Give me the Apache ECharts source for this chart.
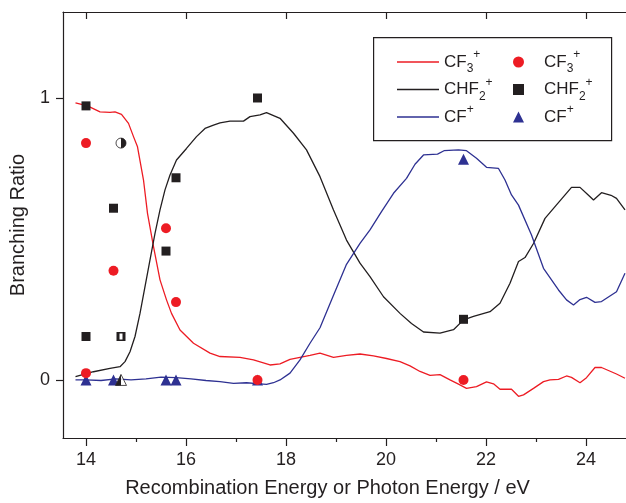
<!DOCTYPE html>
<html>
<head>
<meta charset="utf-8">
<script src="https://cdn.jsdelivr.net/npm/echarts@6/dist/echarts.min.js"></script>
<style>
html, body { margin: 0; padding: 0; background: #fff; }
#main { width: 626px; height: 503px; }
</style>
</head>
<body>
<div id="main"></div>
<script>
// curves [energy, ratio]
var cf3Curve = [
	[13.79,0.983],[14.03,0.972],[14.28,0.951],[14.48,0.949],[14.58,0.951],[14.71,0.942],[14.85,0.91],
	[14.95,0.863],[15.03,0.827],[15.15,0.709],[15.23,0.591],[15.35,0.473],[15.48,0.355],[15.61,0.284],
	[15.71,0.236],[15.88,0.177],[16.15,0.13],[16.48,0.095],[16.68,0.083],[17.08,0.08],[17.35,0.071],
	[17.68,0.053],[17.88,0.057],[18.08,0.073],[18.28,0.08],[18.48,0.087],[18.68,0.095],[18.95,0.08],
	[19.21,0.087],[19.48,0.092],[19.75,0.085],[20.01,0.076],[20.28,0.065],[20.48,0.05],[20.68,0.03],
	[20.88,0.016],[21.08,0.019],[21.28,0.0],[21.45,-0.015],[21.61,-0.03],[21.81,-0.024],[22.01,-0.007],
	[22.15,-0.014],[22.28,-0.033],[22.51,-0.033],[22.65,-0.058],[22.75,-0.053],[22.95,-0.03],[23.15,-0.006],
	[23.28,0.0],[23.45,0.002],[23.61,0.014],[23.71,0.009],[23.88,-0.01],[24.01,0.008],[24.18,0.044],
	[24.31,0.044],[24.61,0.021],[24.78,0.006]
];
var chf2Curve = [
	[13.79,0.012],[14.15,0.029],[14.48,0.041],[14.68,0.047],[14.78,0.065],[14.88,0.1],[14.98,0.154],
	[15.08,0.236],[15.18,0.331],[15.28,0.426],[15.38,0.52],[15.48,0.603],[15.58,0.674],[15.68,0.727],
	[15.81,0.78],[16.01,0.821],[16.21,0.863],[16.38,0.892],[16.55,0.904],[16.68,0.912],[16.88,0.918],
	[17.15,0.918],[17.28,0.934],[17.48,0.94],[17.61,0.948],[17.88,0.928],[18.15,0.875],[18.41,0.816],
	[18.68,0.721],[18.95,0.603],[19.21,0.496],[19.48,0.414],[19.68,0.366],[19.95,0.295],[20.28,0.236],
	[20.51,0.2],[20.75,0.17],[21.08,0.166],[21.35,0.178],[21.55,0.213],[21.75,0.225],[22.08,0.242],
	[22.28,0.272],[22.48,0.343],[22.65,0.42],[22.78,0.434],[22.95,0.484],[23.18,0.573],[23.41,0.621],
	[23.71,0.683],[23.88,0.683],[24.05,0.655],[24.15,0.638],[24.31,0.664],[24.5,0.655],[24.61,0.644],
	[24.78,0.603]
];
var cfCurve = [
	[13.79,0.0],[14.0,0.0],[14.3,-0.002],[14.6,0.004],[14.9,0.0],[15.2,0.004],[15.5,0.01],[15.8,0.008],
	[16.1,0.004],[16.4,-0.002],[16.68,-0.006],[16.95,-0.012],[17.21,-0.01],[17.48,-0.014],[17.61,-0.016],
	[17.75,-0.01],[17.88,0.0],[18.08,0.024],[18.28,0.071],[18.48,0.13],[18.68,0.185],[18.95,0.3],
	[19.21,0.41],[19.48,0.484],[19.68,0.532],[19.91,0.597],[20.15,0.662],[20.41,0.715],[20.58,0.765],
	[20.75,0.798],[21.03,0.801],[21.16,0.813],[21.45,0.816],[21.61,0.813],[21.81,0.786],[22.01,0.754],
	[22.25,0.75],[22.38,0.709],[22.51,0.656],[22.65,0.62],[22.91,0.514],[23.15,0.396],[23.45,0.319],
	[23.61,0.284],[23.75,0.266],[23.88,0.285],[24.01,0.293],[24.18,0.275],[24.31,0.278],[24.61,0.313],
	[24.78,0.378]
];

// measured points
var cf3Points = [[14.0,0.84],[14.0,0.024],[14.55,0.387],[15.6,0.538],[15.8,0.276],[17.43,0],[21.55,0]];
var chf2Points = [[14.0,0.972],[14.0,0.154],[14.55,0.609],[15.6,0.457],[15.8,0.717],[17.43,1.0],[21.55,0.215]];
var cfPoints = [[14.0,0],[14.55,0],[15.6,0],[15.8,0],[17.43,0],[21.55,0.783]];
var halfCircle = [[14.7,0.84]];
var halfSquare = [[14.7,0.154]];
var halfTriangle = [[14.7,0]];

var majorTicks = [14, 16, 18, 20, 22, 24];
var minorTicks = [15, 17, 19, 21, 23];
var yTicks = [0, 1];

var RED = '#ed1c24', BLACK = '#231f20', BLUE = '#2e3192';
var FONT = 'Liberation Sans';

var labels = {
	lineCF3: '{n|CF}{sub|3}{sup|+}',
	lineCHF2: '{n|CHF}{sub|2}{sup|+}',
	lineCF: '{n|CF}{sup|+}',
	ptCF3: '{g| }{n|CF}{sub|3}{sup|+}',
	ptCHF2: '{g| }{n|CHF}{sub|2}{sup|+}',
	ptCF: '{g| }{n|CF}{sup|+}'
};
var rich = {
	n: {fontSize: 17, lineHeight: 26, fontFamily: FONT, color: BLACK},
	sub: {fontSize: 12, lineHeight: 10, verticalAlign: 'bottom', fontFamily: FONT, color: BLACK},
	sup: {fontSize: 12, lineHeight: 10, verticalAlign: 'top', fontFamily: FONT, color: BLACK},
	g: {width: 15, fontSize: 17, lineHeight: 26}
};

var myChart = echarts.init(document.getElementById('main'));

function lineSeries(name, data, color) {
	return {
		name: name, type: 'line', data: data, symbol: 'none', smooth: false,
		lineStyle: {color: color, width: 1.3}, itemStyle: {color: color},
		animation: false, z: 2
	};
}
function pointSeries(name, data, symbol, size, color, extra) {
	var s = {
		name: name, type: 'scatter', data: data, symbol: symbol, symbolSize: size,
		itemStyle: {color: color, opacity: 1}, animation: false, z: 3
	};
	for (var k in extra) s[k] = extra[k];
	return s;
}

var axisLineStyle = {color: BLACK, width: 1.2};

var option = {
	backgroundColor: '#fff',
	grid: {left: 63, top: 12, right: 0, bottom: 65, containLabel: false, outerBoundsMode: 'none'},
	graphic: [{
		type: 'rect', left: 373, top: 37, z: 5,
		shape: {width: 238, height: 103},
		style: {fill: '#fff', stroke: BLACK, lineWidth: 1.2}
	}],
	legend: [{
		data: [
			{name: 'lineCF3', icon: 'rect'},
			{name: 'lineCHF2', icon: 'rect'},
			{name: 'lineCF', icon: 'rect'}
		],
		orient: 'vertical', left: 397, top: 49, padding: 0, z: 10,
		itemWidth: 42, itemHeight: 1.3, itemGap: 1.5,
		formatter: function (n) { return labels[n]; },
		textStyle: {rich: rich},
		selectedMode: false
	}, {
		data: [
			{name: 'ptCF3', icon: 'circle'},
			{name: 'ptCHF2', icon: 'rect'},
			{name: 'ptCF', icon: 'triangle'}
		],
		orient: 'vertical', left: 513, top: 49, padding: 0, z: 10,
		itemWidth: 11, itemHeight: 11, itemGap: 1.5,
		formatter: function (n) { return labels[n]; },
		textStyle: {rich: rich},
		selectedMode: false
	}],
	xAxis: [{
		type: 'value', position: 'bottom', min: 13.54, max: 24.8,
		axisLine: {show: true, onZero: false, lineStyle: axisLineStyle},
		axisTick: {show: true, inside: false, length: 8, customValues: majorTicks, lineStyle: axisLineStyle},
		axisLabel: {customValues: majorTicks, fontSize: 18, margin: 13, color: BLACK, fontFamily: FONT},
		splitLine: {show: false},
		name: 'Recombination Energy or Photon Energy / eV',
		nameLocation: 'middle', nameGap: 40,
		nameTextStyle: {fontSize: 20, color: BLACK, fontFamily: FONT, padding: [0, 34, 0, 0]}
	}, {
		type: 'value', position: 'bottom', min: 13.54, max: 24.8,
		axisLine: {show: false, onZero: false},
		axisTick: {show: true, inside: false, length: 4, customValues: minorTicks, lineStyle: axisLineStyle},
		axisLabel: {show: false},
		splitLine: {show: false}
	}, {
		type: 'value', position: 'top', min: 13.54, max: 24.8,
		axisLine: {show: true, onZero: false, lineStyle: axisLineStyle},
		axisTick: {show: true, inside: true, length: 7, customValues: majorTicks, lineStyle: axisLineStyle},
		axisLabel: {show: false},
		splitLine: {show: false}
	}],
	yAxis: [{
		type: 'value', position: 'left', min: -0.206, max: 1.305,
		axisLine: {show: true, onZero: false, lineStyle: axisLineStyle},
		axisTick: {show: true, inside: false, length: 7, customValues: yTicks, lineStyle: axisLineStyle},
		axisLabel: {customValues: yTicks, fontSize: 18, margin: 13, color: BLACK, fontFamily: FONT},
		splitLine: {show: false},
		name: 'Branching Ratio', nameLocation: 'middle', nameGap: 35,
		nameTextStyle: {fontSize: 20, color: BLACK, fontFamily: FONT}
	}],
	series: [
		lineSeries('lineCF3', cf3Curve, RED),
		lineSeries('lineCHF2', chf2Curve, BLACK),
		lineSeries('lineCF', cfCurve, BLUE),
		pointSeries('ptCF', cfPoints, 'triangle', 11, BLUE),
		pointSeries('ptCHF2', chf2Points, 'rect', 9, BLACK),
		pointSeries('ptCF3', cf3Points, 'circle', 10, RED),
		// half filled markers at 14.7 eV
		pointSeries('halfC', halfCircle, 'circle', 10, '#fff', {itemStyle: {color: '#fff', borderColor: BLACK, borderWidth: 1}}),
		pointSeries('halfC2', halfCircle, 'path://M0,0 C5.5,0 10,4.5 10,10 C10,15.5 5.5,20 0,20 Z', [5, 10], BLACK, {symbolOffset: [2.5, 0], z: 4}),
		pointSeries('halfS', halfSquare, 'rect', 9, BLACK),
		pointSeries('halfS2', halfSquare, 'rect', [3, 6], '#fff', {z: 4}),
		pointSeries('halfT', halfTriangle, 'triangle', 11, '#fff', {itemStyle: {color: '#fff', borderColor: BLACK, borderWidth: 1}}),
		pointSeries('halfT2', halfTriangle, 'path://M5,0 L0,10 L5,10 Z', [5.5, 11], BLACK, {symbolOffset: [-2.75, 0], z: 4})
	]
};
myChart.setOption(option);
</script>
</body>
</html>
